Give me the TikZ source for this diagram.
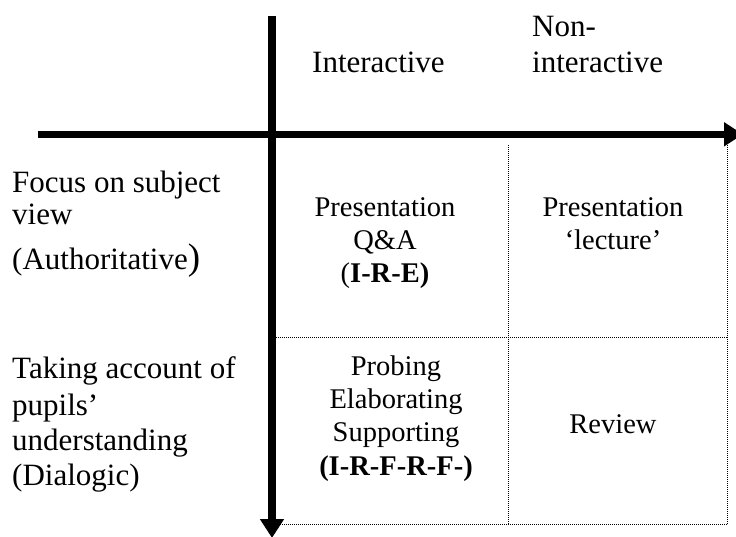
\documentclass[tikz,border=0pt]{standalone}
\usepackage{fontspec}
\setmainfont{Liberation Serif}
\usetikzlibrary{arrows.meta}
\tikzset{
  axis/.style={line width=7.5pt,-{Triangle[length=19pt,width=23pt]}},
  grid/.style={line width=0.9pt,dash pattern=on 0.9pt off 1.1pt},
  big/.style={font=\fontsize{31}{35}\selectfont,inner sep=0pt},
  cell/.style={font=\fontsize{28.5}{33}\selectfont,inner sep=0pt,anchor=base},
  lab/.style={big,anchor=base west},
}
\begin{document}
\begin{tikzpicture}[x=1pt,y=-1pt]
\useasboundingbox (0,0) rectangle (736,537);
\clip (0,0) rectangle (736,537);
% grid corners
\coordinate (g1) at (272,145);
\coordinate (g2) at (508,145);
\coordinate (g3) at (727.5,145);
\coordinate (m1) at (272,337);
\coordinate (m2) at (508,337);
\coordinate (m3) at (727.5,337);
\coordinate (b1) at (272,524);
\coordinate (b2) at (508,524);
\coordinate (b3) at (727.5,524);
\draw[grid] (g2) -- (b2);
\draw[grid] (g3) -- (b3);
\draw[grid] (m1) -- (m3);
\draw[grid] (b1) -- (b3);
% axes
\coordinate (hs) at (37.5,134.3);
\coordinate (he) at (743,134.3);
\coordinate (vs) at (272,16);
\coordinate (ve) at (272,538);
\draw[axis] (hs) -- (he);
\draw[axis] (vs) -- (ve);
% headers
\node[lab] (int) at (312,73) {Interactive};
\node[lab] (non1) at (532,37) {Non-};
\node[lab] (non2) at (532,73) {interactive};
% left labels
\node[lab] (f1) at (12,193) {Focus on subject};
\node[lab] (f2) at (12,225) {view};
\node[lab] (f3) at (12,270) {(Authoritative{\fontsize{37}{37}\selectfont )}};
\node[lab] (t1) at (12,378) {Taking account of};
\node[lab] (t2) at (12,415) {pupils’};
\node[lab] (t3) at (12,450) {understanding};
\node[lab] (t4) at (12,485) {(Dialogic)};
% cells
\node[cell] (c1a) at (385,217) {Presentation};
\node[cell] (c1b) at (385,250) {Q\&A};
\node[cell] (c1c) at (385,283) {(\textbf{I-R-E)}};
\node[cell] (c2a) at (613,217) {Presentation};
\node[cell] (c2b) at (613,250) {‘lecture’};
\node[cell] (c3a) at (396,375) {Probing};
\node[cell] (c3b) at (396,408) {Elaborating};
\node[cell] (c3c) at (396,441) {Supporting};
\node[cell] (c3d) at (396,475) {\textbf{(I-R-F-R-F-)}};
\node[cell] (c4) at (613,433) {Review};
\end{tikzpicture}
\end{document}
